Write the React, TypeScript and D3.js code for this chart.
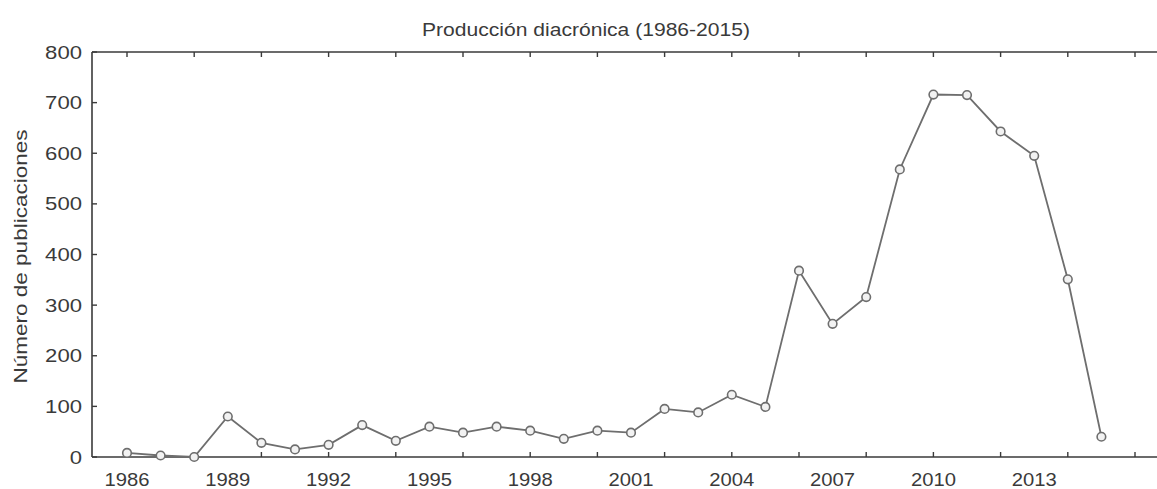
import React from "react";
import * as d3 from "d3";

const years: number[] = [1986,1987,1988,1989,1990,1991,1992,1993,1994,1995,1996,1997,1998,1999,2000,2001,2002,2003,2004,2005,2006,2007,2008,2009,2010,2011,2012,2013,2014,2015];
const publications: number[] = [8,3,0,80,28,15,24,63,32,60,48,60,52,36,52,48,95,88,123,99,368,263,316,568,716,715,643,595,351,40];
const xLabelYears: number[] = [1986,1989,1992,1995,1998,2001,2004,2007,2010,2013];
const xTickYears: number[] = d3.range(1986, 2017, 2);
const yTicks: number[] = [0,100,200,300,400,500,600,700,800];
const title = "Producción diacrónica (1986-2015)";
const yTitle = "Número de publicaciones";

const W = 1157, H = 489;
const left = 92, top = 52, bottom = 457, right = 1157;
const font = "'Liberation Sans', Arial, sans-serif";
const axisColor = "#3a3a3a";
const textColor = "#3a3a3a";
const lineColor = "#6e6e6e";

export default function App() {
  const x = d3.scaleLinear().domain([1986, 2016]).range([127, 1135]);
  const y = d3.scaleLinear().domain([0, 800]).range([bottom, top]);
  const line = d3.line<number>().x((_, i) => x(years[i])).y(d => y(d));
  const path = line(publications) || "";

  return (
    <svg width={W} height={H} style={{ position: "absolute", left: 0, top: 0, background: "#fff" }}>
      <rect x={0} y={0} width={W} height={H} fill="#fff" />
      <text x={586} y={36} fontFamily={font} fontSize={17.5} fill={textColor} textAnchor="middle"
        textLength={328} lengthAdjust="spacingAndGlyphs">{title}</text>
      <text transform={`translate(27,${(top + bottom) / 2 + 2}) rotate(-90)`} fontFamily={font} fontSize={19}
        fill={textColor} textAnchor="middle" textLength={254} lengthAdjust="spacingAndGlyphs">{yTitle}</text>

      {/* frame */}
      <line x1={left} x2={right} y1={top} y2={top} stroke={axisColor} strokeWidth={1.6} />
      <line x1={left} x2={right} y1={bottom} y2={bottom} stroke={axisColor} strokeWidth={1.6} />
      <line x1={left} x2={left} y1={top} y2={bottom} stroke={axisColor} strokeWidth={1.6} />

      {xTickYears.map(t => (
        <g key={"xt" + t}>
          <line x1={x(t)} x2={x(t)} y1={bottom} y2={bottom - 5} stroke={axisColor} strokeWidth={1.4} />
          <line x1={x(t)} x2={x(t)} y1={top} y2={top + 5} stroke={axisColor} strokeWidth={1.4} />
        </g>
      ))}
      {yTicks.map(t => (
        <g key={"yt" + t}>
          <line x1={left} x2={left + 5} y1={y(t)} y2={y(t)} stroke={axisColor} strokeWidth={1.4} />
          <text x={82} y={y(t) + 6.5} fontFamily={font} fontSize={19} fill={textColor} textAnchor="end"
            textLength={String(t).length * 12.3} lengthAdjust="spacingAndGlyphs">{t}</text>
        </g>
      ))}
      {xLabelYears.map(t => (
        <text key={"xl" + t} x={x(t)} y={486} fontFamily={font} fontSize={19} fill={textColor} textAnchor="middle"
          textLength={45} lengthAdjust="spacingAndGlyphs">{t}</text>
      ))}

      <path d={path} fill="none" stroke={lineColor} strokeWidth={1.8} />
      {publications.map((v, i) => (
        <circle key={"c" + i} cx={x(years[i])} cy={y(v)} r={4.3} fill="#f2f2f2" stroke={lineColor} strokeWidth={1.6} />
      ))}
    </svg>
  );
}
